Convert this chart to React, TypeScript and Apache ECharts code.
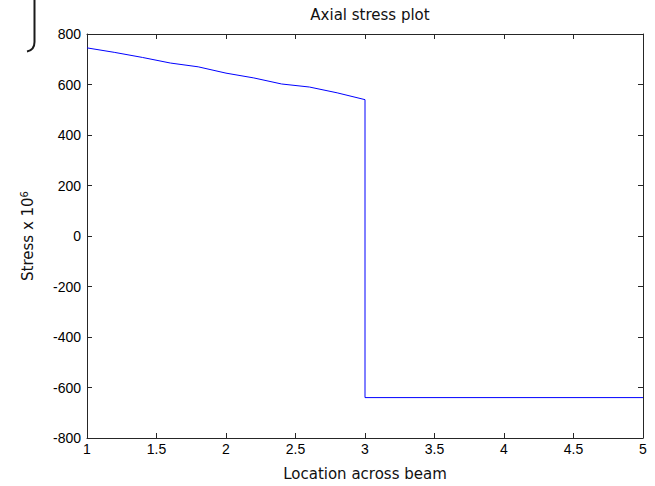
import React, { useEffect, useRef } from "react";
import * as echarts from "echarts";

// Location across beam (x) and axial stress (x 10^6) values
const locations = [1, 1.2, 1.4, 1.6, 1.8, 2.0, 2.2, 2.4, 2.6, 2.8, 3.0, 3.0, 5.0];
const stress = [745, 727, 707, 685, 670, 645, 626, 602, 590, 567, 540, -640, -640];

const xMin = 1;
const xMax = 5;
const xInterval = 0.5;
const yMin = -800;
const yMax = 800;
const yInterval = 200;

const titleText = "Axial stress plot";
const xName = "Location across beam";

echarts.graphic.registerShape(
  "bracketMark",
  echarts.graphic.extendPath("M34.5 0 L34.5 42 Q34.5 50 27 51.5", {})
);

export default function App() {
  const ref = useRef<HTMLDivElement>(null);
  useEffect(() => {
    if (!ref.current) return;
    const chart = echarts.init(ref.current, null, { renderer: "svg" });
    const font = "Liberation Sans, Arial, Helvetica, sans-serif";
    const nameFont = "DejaVu Sans, Liberation Sans, sans-serif";
    const axisColor = "#262626";
    const data = locations.map((x, i) => [x, stress[i]]);
    const baseX = {
      type: "value" as const,
      min: xMin,
      max: xMax,
      interval: xInterval,
      splitLine: { show: false },
      axisLine: { show: true, onZero: false, lineStyle: { color: axisColor, width: 1 } },
      axisTick: { show: true, inside: true, length: 5, lineStyle: { color: axisColor } },
    };
    const baseY = {
      type: "value" as const,
      min: yMin,
      max: yMax,
      interval: yInterval,
      splitLine: { show: false },
      axisLine: { show: true, onZero: false, lineStyle: { color: axisColor, width: 1 } },
      axisTick: { show: true, inside: true, length: 5, lineStyle: { color: axisColor } },
    };
    chart.setOption({
      animation: false,
      backgroundColor: "#ffffff",
      title: {
        text: titleText,
        left: 365,
        top: 2,
        textAlign: "center",
        textStyle: { fontFamily: nameFont, fontSize: 15, fontWeight: "normal", color: "#111" },
      },
      grid: { left: 87, right: 12, top: 34, bottom: 41, containLabel: false },
      xAxis: [
        {
          ...baseX,
          position: "bottom",
          name: xName,
          nameLocation: "middle",
          nameGap: 28,
          nameTextStyle: { fontFamily: nameFont, fontSize: 15, color: "#111" },
          axisLabel: { show: true, fontFamily: font, fontSize: 14, color: "#000", margin: 4 },
        },
        { ...baseX, position: "top", axisLabel: { show: false } },
      ],
      yAxis: [
        {
          ...baseY,
          position: "left",
          name: "Stress x 10{sup|6}",
          nameLocation: "middle",
          nameRotate: 90,
          nameGap: 50,
          nameTextStyle: {
            fontFamily: nameFont,
            fontSize: 15,
            color: "#111",
            rich: {
              sup: { fontFamily: nameFont, fontSize: 10, color: "#111", verticalAlign: "top", padding: [0, 0, 8, 0] },
            },
          },
          axisLabel: { show: true, fontFamily: font, fontSize: 14, color: "#000", margin: 6 },
        },
        { ...baseY, position: "right", axisLabel: { show: false } },
      ],
      graphic: [
        {
          type: "bracketMark",
          x: 0,
          y: 0,
          style: { stroke: "#1a1a1a", lineWidth: 2, fill: "none" },
        },
      ],
      series: [
        {
          type: "line",
          data,
          xAxisIndex: 0,
          yAxisIndex: 0,
          showSymbol: false,
          symbol: "none",
          lineStyle: { color: "#0000ff", width: 1 },
          silent: true,
        },
      ],
    });
    return () => chart.dispose();
  }, []);
  return (
    <div
      ref={ref}
      style={{ position: "fixed", left: 0, top: 0, width: 655, height: 486 }}
    />
  );
}
